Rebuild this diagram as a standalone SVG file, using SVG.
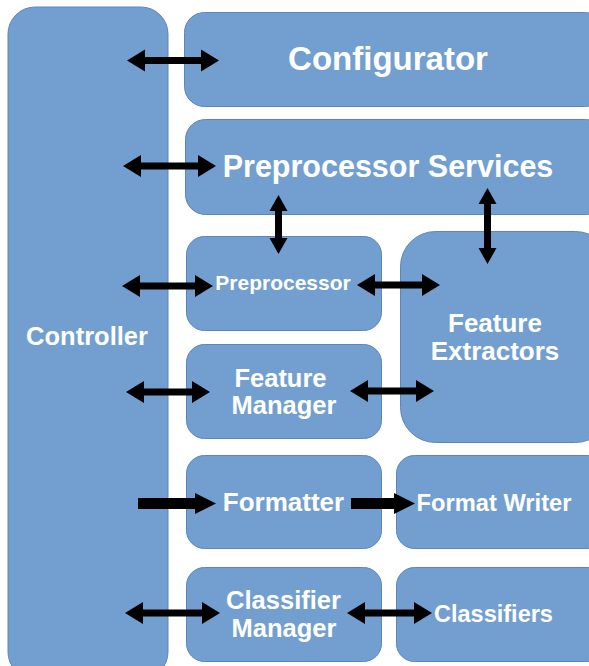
<svg xmlns="http://www.w3.org/2000/svg" width="589" height="666" viewBox="0 0 589 666">
<style>
.box{fill:#729fcf;stroke:#5a86bf;stroke-width:1}
.lbl{fill:#ffffff;font-family:"Liberation Sans",Arial,sans-serif;font-weight:bold;text-anchor:middle}
.arr{fill:#000000}
</style>
<rect width="589" height="666" fill="#ffffff"/>
<g id="controller"><rect class="box" x="8" y="7" width="160" height="672" rx="27"/><text class="lbl" x="87" y="345" font-size="25.5">Controller</text></g>
<g id="configurator"><rect class="box" x="184.5" y="12.5" width="420" height="94" rx="20"/><text class="lbl" x="388" y="70" font-size="33">Configurator</text></g>
<g id="preprocessor-services"><rect class="box" x="185.5" y="119.5" width="420" height="95" rx="20"/><text class="lbl" x="388" y="177" font-size="30.5">Preprocessor Services</text></g>
<g id="preprocessor"><rect class="box" x="186.5" y="236.5" width="195" height="94" rx="18"/><text class="lbl" x="283" y="290" font-size="21">Preprocessor</text></g>
<g id="feature-extractors"><rect class="box" x="400.5" y="231.5" width="210" height="211" rx="35"/><text class="lbl" x="495" y="332" font-size="26">Feature</text><text class="lbl" x="495" y="360" font-size="26">Extractors</text></g>
<g id="feature-manager"><rect class="box" x="186.5" y="344.5" width="195" height="94" rx="18"/><text class="lbl" x="280.5" y="387" font-size="25.5">Feature</text><text class="lbl" x="284" y="414" font-size="25.5">Manager</text></g>
<g id="formatter"><rect class="box" x="186.5" y="455.5" width="195" height="93" rx="18"/><text class="lbl" x="283.5" y="511" font-size="26">Formatter</text></g>
<g id="format-writer"><rect class="box" x="396.5" y="455.5" width="210" height="93" rx="18"/><text class="lbl" x="494" y="511" font-size="23.7">Format Writer</text></g>
<g id="classifier-manager"><rect class="box" x="186.5" y="567.5" width="195" height="94" rx="18"/><text class="lbl" x="283.5" y="609" font-size="25.5">Classifier</text><text class="lbl" x="284" y="637" font-size="25.5">Manager</text></g>
<g id="classifiers"><rect class="box" x="396.5" y="567.5" width="210" height="94" rx="18"/><text class="lbl" x="493.5" y="622" font-size="23.5">Classifiers</text></g>
<g id="connectors">
<polygon class="arr" points="127,60.5 145,49.5 145,57 201,57 201,49.5 219,60.5 201,71.5 201,64 145,64 145,71.5"/>
<polygon class="arr" points="123,166 141,155 141,162.5 198,162.5 198,155 216,166 198,177 198,169.5 141,169.5 141,177"/>
<polygon class="arr" points="278.5,195 287.5,211 282,211 282,238 287.5,238 278.5,254 269.5,238 275,238 275,211 269.5,211"/>
<polygon class="arr" points="487.5,188 496.5,204 491,204 491,248 496.5,248 487.5,264 478.5,248 484,248 484,204 478.5,204"/>
<polygon class="arr" points="122,286 140,275 140,282.5 195,282.5 195,275 213,286 195,297 195,289.5 140,289.5 140,297"/>
<polygon class="arr" points="357,285 375,274 375,281.5 422,281.5 422,274 440,285 422,296 422,288.5 375,288.5 375,296"/>
<polygon class="arr" points="126,392 144,381 144,388.5 192,388.5 192,381 210,392 192,403 192,395.5 144,395.5 144,403"/>
<polygon class="arr" points="350,391 368,380 368,387.5 416,387.5 416,380 434,391 416,402 416,394.5 368,394.5 368,402"/>
<polygon class="arr" points="138,498 195,498 195,493 216,503.5 195,514 195,509 138,509"/>
<polygon class="arr" points="351,498 394,498 394,493 415,503.5 394,514 394,509 351,509"/>
<polygon class="arr" points="125,613 143,602 143,609.5 202,609.5 202,602 220,613 202,624 202,616.5 143,616.5 143,624"/>
<polygon class="arr" points="347,613 365,602 365,609.5 414,609.5 414,602 432,613 414,624 414,616.5 365,616.5 365,624"/>
</g>
</svg>
